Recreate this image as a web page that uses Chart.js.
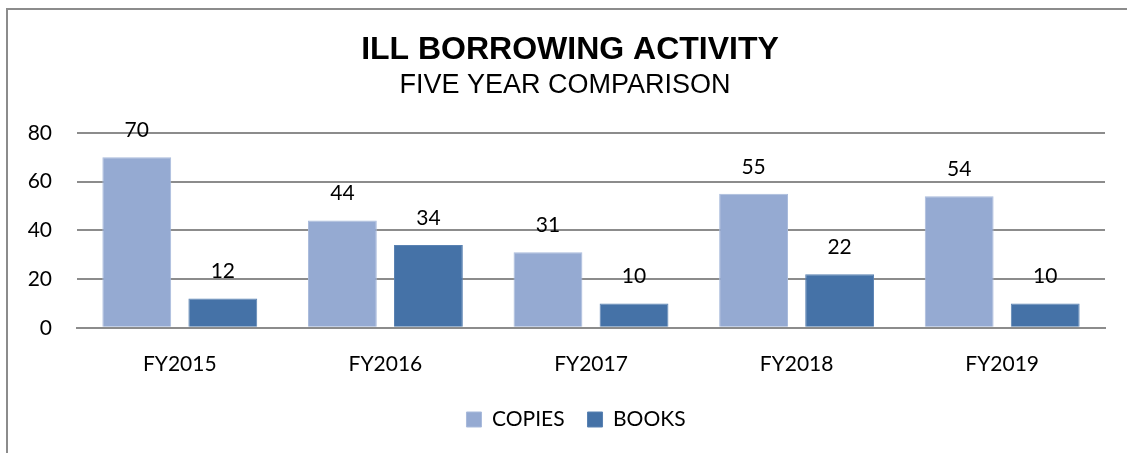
<!DOCTYPE html>
<html>
<head>
<meta charset="utf-8">
<script src="https://cdn.jsdelivr.net/npm/chart.js@4"></script>
<style>
  html, body { margin: 0; padding: 0; background: #fff; overflow: hidden; }
  #frame {
    position: absolute; left: 6px; top: 8px; width: 1300px; height: 600px;
    border: 2px solid #8c8c8c; box-sizing: border-box;
  }
  #wrap { position: absolute; left: 0; top: 0; width: 1127px; height: 453px; }
</style>
</head>
<body>
<div id="frame"></div>
<div id="wrap"><canvas id="illChart" width="1127" height="453"></canvas></div>
<script>
const years = ['FY2015', 'FY2016', 'FY2017', 'FY2018', 'FY2019'];
const copies = [70, 44, 31, 55, 54];
const books = [12, 34, 10, 22, 10];
const yTicks = [0, 20, 40, 60, 80];

const labelFont = 'Lato, "Open Sans", sans-serif';

// value labels above bars
const barLabels = {
  id: 'barLabels',
  afterDatasetsDraw(chart) {
    const ctx = chart.ctx;
    ctx.save();
    ctx.font = '21px ' + labelFont;
    ctx.fillStyle = '#000';
    ctx.textAlign = 'center';
    ctx.textBaseline = 'middle';
    chart.data.datasets.forEach((ds, i) => {
      chart.getDatasetMeta(i).data.forEach((bar, j) => {
        ctx.fillText(ds.data[j], bar.x, bar.y - 27);
      });
    });
    ctx.restore();
  }
};

// title and legend sit a little right of the chart's centre in the original
const nudge = {
  id: 'nudge',
  afterLayout(chart) {
    const move = (box, dx) => { if (box) { box.left += dx; box.right += dx; } };
    move(chart.titleBlock, 5);
    move(chart.$subtitle, 5);
    move(chart.legend, 11);
  }
};

const ctx = document.getElementById('illChart').getContext('2d');
const chart = new Chart(ctx, {
  type: 'bar',
  data: {
    labels: years,
    datasets: [{
      label: 'COPIES',
      data: copies,
      backgroundColor: '#95aad2',
      borderColor: '#a9bbdc',
      borderWidth: 1,
    }, {
      label: 'BOOKS',
      data: books,
      backgroundColor: '#4572a7',
      borderColor: '#5a82b2',
      borderWidth: 1,
    }]
  },
  options: {
    responsive: false,
    animation: false,
    categoryPercentage: 0.837,
    barPercentage: 0.8,
    layout: {
      padding: { left: 25, right: 22, top: 0, bottom: 13 }
    },
    scales: {
      x: {
        grid: { display: false, drawTicks: false },
        border: { display: true, color: '#8c8c8c', width: 2 },
        ticks: { color: '#000', font: { size: 21, family: labelFont }, padding: 24 },
        afterFit(scale) { scale.height -= 15; }
      },
      y: {
        min: 0,
        max: 80,
        afterBuildTicks(scale) {
          scale.ticks = yTicks.map(v => ({ value: v }));
        },
        afterFit(scale) { scale.width = 52; },
        grid: { color: '#8c8c8c', lineWidth: 2, drawTicks: false },
        border: { display: false },
        ticks: { color: '#000', font: { size: 21, family: labelFont }, padding: 25 }
      }
    },
    plugins: {
      title: {
        display: true,
        text: 'ILL BORROWING ACTIVITY',
        color: '#000',
        font: { size: 32, weight: 'bold', family: '"Liberation Sans", Arial, sans-serif' },
        padding: { top: 31, bottom: 0 }
      },
      subtitle: {
        display: true,
        text: 'FIVE YEAR COMPARISON',
        color: '#000',
        font: { size: 27, family: '"Liberation Sans", Arial, sans-serif' },
        padding: { top: 0, bottom: 31 }
      },
      legend: {
        position: 'bottom',
        labels: {
          color: '#000',
          font: { size: 21, family: labelFont },
          boxWidth: 15,
          boxHeight: 15,
          padding: 23
        }
      },
      tooltip: { enabled: false }
    }
  },
  plugins: [barLabels, nudge]
});
</script>
</body>
</html>
